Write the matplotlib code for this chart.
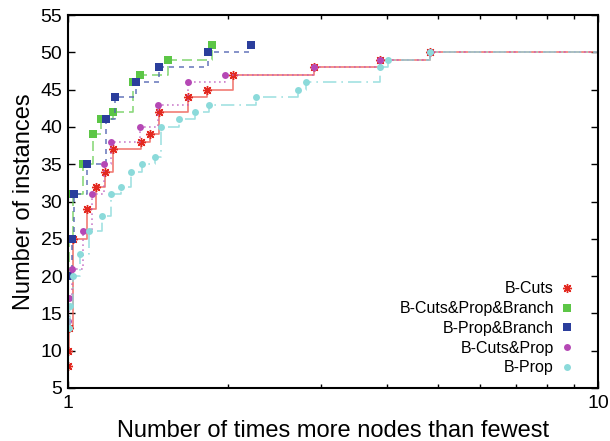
import numpy as np
import matplotlib
matplotlib.use("Agg")
import matplotlib.pyplot as plt
from matplotlib.lines import Line2D
from matplotlib.ticker import LogLocator, NullFormatter, FixedLocator

plt.rcParams['font.family'] = ['Liberation Sans', 'DejaVu Sans']

# ratio of nodes vs. best, and cumulative number of instances
cuts_x = [1.0, 1.0, 1.003, 1.022, 1.086, 1.128, 1.173, 1.216, 1.371, 1.428,
          1.485, 1.684, 1.832, 2.046, 2.912, 3.88, 4.82]
cuts_y = [8, 10, 13, 25, 29, 32, 34, 37, 38, 39, 42, 44, 45, 47, 48, 49, 50]

cpb_x = [1.0, 1.005, 1.02, 1.066, 1.113, 1.154, 1.214, 1.325, 1.366, 1.542, 1.867]
cpb_y = [20, 25, 31, 35, 39, 41, 42, 46, 47, 49, 51]

pb_x = [1.001, 1.016, 1.026, 1.085, 1.182, 1.227, 1.344, 1.485, 1.834, 2.211]
pb_y = [20, 25, 31, 35, 41, 44, 46, 48, 50, 51]

cp_x = [1.001, 1.006, 1.018, 1.069, 1.111, 1.171, 1.205, 1.367, 1.48, 1.684,
        1.982, 2.912, 3.88, 4.82]
cp_y = [14, 17, 21, 26, 31, 35, 38, 40, 43, 46, 47, 48, 49, 50]

prop_x = [1.006, 1.009, 1.021, 1.055, 1.097, 1.161, 1.204, 1.257, 1.313, 1.377,
          1.459, 1.499, 1.617, 1.736, 1.849, 2.265, 2.716, 2.818, 3.88, 4.01, 4.82]
prop_y = [13, 16, 20, 23, 26, 28, 31, 32, 34, 35, 36, 40, 41, 42, 43, 44, 45,
          46, 48, 49, 50]

x_max = 10

series = [
    ("B-Cuts", cuts_x, cuts_y, '#e3281f', '#ee5a52', '-', (8, 2, 0), 6.5, True),
    ("B-Cuts&Prop&Branch", cpb_x, cpb_y, '#5cc646', '#6fcf5c', (0, (6, 3)), 's', 5.5, False),
    ("B-Prop&Branch", pb_x, pb_y, '#2b3e9c', '#4d60b0', (0, (3, 3)), 's', 5.5, False),
    ("B-Cuts&Prop", cp_x, cp_y, '#b548b5', '#c060c0', (0, (1, 2)), 'o', 5, True),
    ("B-Prop", prop_x, prop_y, '#8bdada', '#8bdada', (0, (8, 3, 1, 3)), 'o', 5, True),
]

fig = plt.figure(figsize=(6.1, 4.41), dpi=100)
ax = fig.add_axes([68 / 610, 1 - 388 / 441, 530 / 610, 373 / 441])

handles = []
for label, xs, ys, mc, lc, ls, mk, ms, to_end in series:
    lx = list(xs) + ([x_max] if to_end else [])
    ly = list(ys) + ([ys[-1]] if to_end else [])
    ax.step(lx, ly, where='post', color=lc, linestyle=ls, lw=1.2, alpha=0.8)
    ax.plot(xs, ys, linestyle='none', marker=mk, markersize=ms, color=mc,
            markeredgewidth=1.0 if mk == (8, 2, 0) else 0)
    handles.append(Line2D([], [], linestyle='none', marker=mk, markersize=ms,
                          color=mc, markeredgewidth=1.0 if mk == (8, 2, 0) else 0,
                          label=label))

ax.set_xscale('log')
ax.set_xlim(1, 10)
ax.set_ylim(5, 55)
ax.set_yticks(np.arange(5, 56, 5))
ax.xaxis.set_major_locator(FixedLocator([1, 10]))
ax.set_xticklabels(['1', '10'])
ax.xaxis.set_minor_locator(LogLocator(base=10, subs=np.arange(2, 10)))
ax.xaxis.set_minor_formatter(NullFormatter())
ax.tick_params(which='both', direction='in', top=True, right=True,
               labelsize=14, width=1.0)
ax.tick_params(which='major', length=5)
ax.tick_params(which='minor', length=3)
ax.tick_params(axis='x', pad=5)
ax.tick_params(axis='y', pad=4)
for sp in ax.spines.values():
    sp.set_linewidth(1.5)

ax.set_xlabel('Number of times more nodes than fewest', fontsize=17, labelpad=6)
ax.set_ylabel('Number of instances', fontsize=17, labelpad=4)

ax.legend(handles=handles, loc='lower right', frameon=False, markerfirst=False,
          fontsize=11.5, handlelength=1.0, handletextpad=0.3, labelspacing=0.3,
          bbox_to_anchor=(0.983, -0.005))

fig.savefig('out.png', dpi=100)
